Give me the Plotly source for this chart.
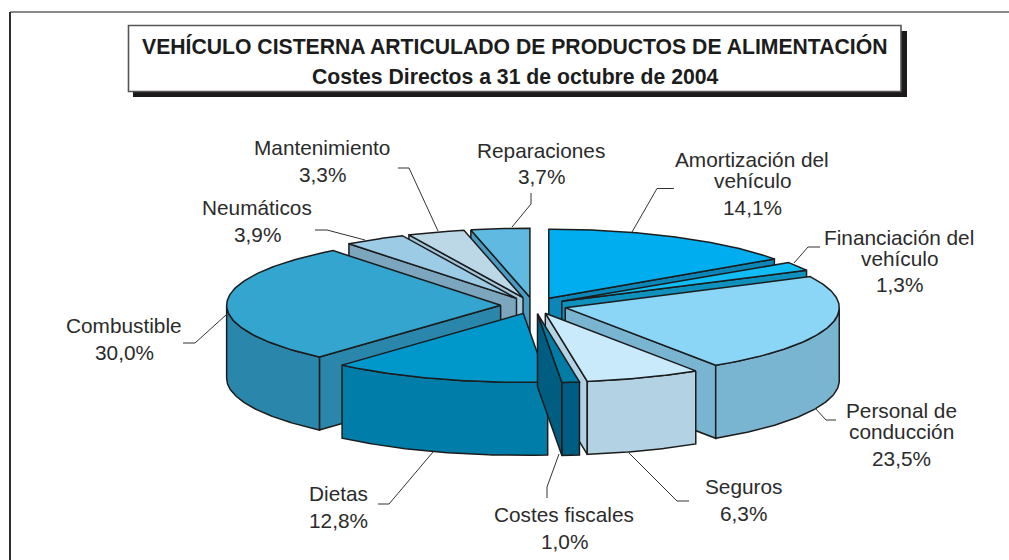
import numpy as np
import plotly.graph_objects as go

# ---- data ----
categories = ["Amortización del vehículo", "Financiación del vehículo", "Personal de conducción",
              "Seguros", "Costes fiscales", "Dietas", "Combustible", "Neumáticos",
              "Mantenimiento", "Reparaciones"]
values = [14.1, 1.3, 23.5, 6.3, 1.0, 12.8, 30.0, 3.9, 3.3, 3.7]
title_lines = ["VEHÍCULO CISTERNA ARTICULADO DE PRODUCTOS DE ALIMENTACIÓN",
               "Costes Directos a 31 de octubre de 2004"]

# ---- styles ----
top_colors = ["#00aeef", "#12bdf6", "#8bd6f7", "#c9eafb", "#007ca6",
              "#0098cb", "#33a5cf", "#9ccbe5", "#bcd7e6", "#5fb9e0"]
wall_colors = ["#0b86b9", "#0f91bd", "#79b4d1", "#b3d3e4", "#005d82",
               "#007ea9", "#2a86aa", "#7ca6be", "#a3c6da", "#4a9cc2"]
EDGE = "#1c1c1c"
TEXT = "#2b2b2b"
FONT = "Liberation Sans"

# ---- pie projection parameters ----
CX, CY, RX, RY, DEPTH, PULL = 533.5, 305.5, 274.0, 69.0, 73.0, 0.12
# the picture's oblique projection shifts the sector boundaries slightly
WARP_IN = [0, 50.8, 55.4, 140, 162.7, 166.3, 212.4, 320.4, 334.4, 346.3, 360]
WARP_OUT = [0, 55.4, 63.2, 146.5, 171, 174.7, 221.2, 322, 335, 347.2, 360]

# ---- layout of labels and leaders (x, y in page pixels) ----
label_lines = [
    (752, [("Amortización del", 159), ("vehículo", 180)], 207),
    (899, [("Financiación del", 237), ("vehículo", 258)], 284),
    (901, [("Personal de", 410), ("conducción", 431)], 458),
    (743, [("Seguros", 486)], 513),
    (564, [("Costes fiscales", 514)], 541),
    (338, [("Dietas", 493)], 520),
    (124, [("Combustible", 325)], 352),
    (257, [("Neumáticos", 207)], 234),
    (322, [("Mantenimiento", 147)], 174),
    (541, [("Reparaciones", 150)], 176),
]
leaders = [
    [(632, 232), (657, 188.5), (674, 188.5)],
    [(794, 263), (808, 247), (820, 247)],
    [(815, 408), (826, 420), (836, 420)],
    [(629, 453), (677, 501), (689, 501)],
    [(559, 454), (547, 487), (547, 498)],
    [(433, 452), (389, 504), (378, 504)],
    [(226, 315), (195, 343), (183, 343)],
    [(365, 240), (327, 230), (315, 230)],
    [(438, 231), (409, 168), (398, 168)],
    [(512, 227), (531, 204), (531, 193)],
]

fig = go.Figure()


def poly(xs, ys, fill, name):
    fig.add_trace(go.Scatter(x=list(xs), y=list(ys), mode="lines", fill="toself", fillcolor=fill,
                             line=dict(color=EDGE, width=1.5), name=name, hoverinfo="skip",
                             showlegend=False))


edges = np.cumsum([0] + values) / sum(values) * 360
drawn = np.interp(edges, WARP_IN, WARP_OUT)
mids = (drawn[:-1] + drawn[1:]) / 2
# back slices first, front slices last
order = sorted(range(len(values)), key=lambda i: -np.cos(np.radians(mids[i])))


def pt(ax, ay, deg):
    r = np.radians(deg)
    return ax + RX * np.sin(r), ay - RY * np.cos(r)


for i in order:
    t1, t2, m = drawn[i], drawn[i + 1], mids[i]
    ax = CX + PULL * RX * np.sin(np.radians(m))
    ay = CY - PULL * RY * np.cos(np.radians(m))
    name = categories[i]
    # radial side walls
    for t, vis in ((t1, 180 < t1 < 360), (t2, 0 < t2 < 180)):
        if vis:
            ex, ey = pt(ax, ay, t)
            poly([ax, ex, ex, ax, ax], [ay, ey, ey + DEPTH, ay + DEPTH, ay], wall_colors[i], name)
    # outer wall
    lo, hi = max(t1, 90), min(t2, 270)
    if lo < hi:
        th = np.linspace(lo, hi, 80)
        xs, ys = pt(ax, ay, th)
        poly(np.r_[xs, xs[::-1], xs[0]], np.r_[ys, ys[::-1] + DEPTH, ys[0]], wall_colors[i], name)
    # top face
    th = np.linspace(t1, t2, 120)
    xs, ys = pt(ax, ay, th)
    poly(np.r_[ax, xs, ax], np.r_[ay, ys, ay], top_colors[i], name)

shapes = [
    dict(type="line", x0=0.01, x1=1, xref="paper", y0=12, y1=12, yref="y", line=dict(color="#8a8a8a", width=2)),
    dict(type="line", x0=10, x1=10, y0=12, y1=560, line=dict(color="#2e2e2e", width=2)),
    dict(type="rect", x0=133, x1=907, y0=31, y1=97, fillcolor="#1c1a1a", line=dict(width=0)),
    dict(type="rect", x0=128.5, x1=901, y0=25.5, y1=91.5, fillcolor="white", line=dict(color="#555555", width=1.6)),
]
for pts in leaders:
    d = "M" + " L".join(f"{x},{y}" for x, y in pts)
    shapes.append(dict(type="path", path=d, line=dict(color="#333333", width=1)))

annotations = [
    dict(x=514.5, y=46, text=f"<b>{title_lines[0]}</b>", font=dict(size=21.2, color="#1c1c1c", family=FONT)),
    dict(x=514.5, y=76, text=f"<b>{title_lines[1]}</b>", font=dict(size=21.2, color="#1c1c1c", family=FONT)),
]
for v, (x, lines, py) in zip(values, label_lines):
    for txt, y in lines:
        annotations.append(dict(x=x, y=y, text=txt, font=dict(size=20.8, color=TEXT, family=FONT)))
    annotations.append(dict(x=x, y=py, text=f"{v:.1f}%".replace(".", ","),
                            font=dict(size=20.8, color=TEXT, family=FONT)))
for a in annotations:
    a.update(xref="x", yref="y", showarrow=False, xanchor="center", yanchor="middle")

fig.update_layout(
    width=1009, height=560, margin=dict(l=0, r=0, t=0, b=0),
    paper_bgcolor="white", plot_bgcolor="white", showlegend=False,
    xaxis=dict(range=[0, 1009], visible=False, fixedrange=True),
    yaxis=dict(range=[560, 0], visible=False, fixedrange=True),
    shapes=shapes, annotations=annotations,
)
fig.write_html("out.html", config=dict(displayModeBar=False),
               post_script="document.body.style.margin='0';document.body.style.overflow='hidden';")
